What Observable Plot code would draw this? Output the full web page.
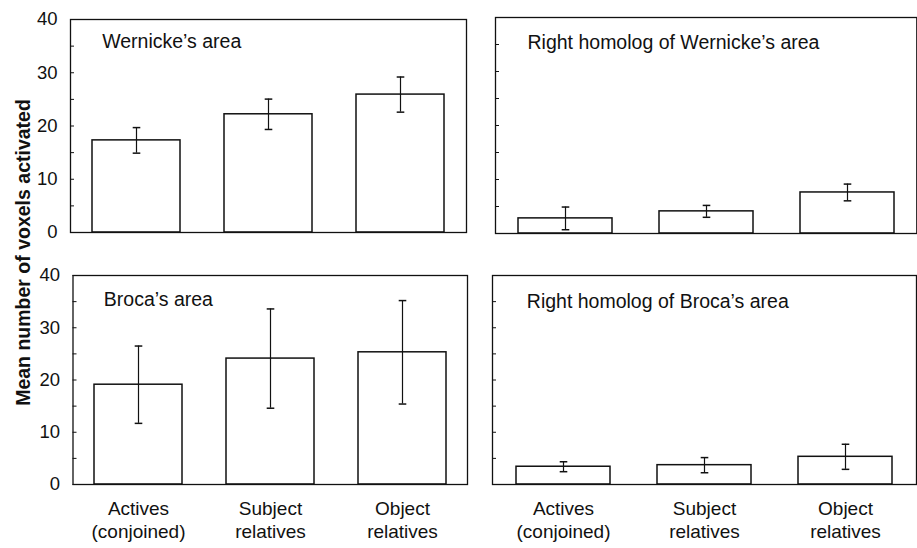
<!DOCTYPE html>
<html>
<head>
<meta charset="utf-8">
<script src="https://cdn.jsdelivr.net/npm/d3@7"></script>
<script src="https://cdn.jsdelivr.net/npm/@observablehq/plot@0.6"></script>
<style>
  body { margin: 0; background: #fff; }
  #chart { position: relative; width: 917px; height: 548px; overflow: hidden; background: #fff;
           font-family: "Liberation Sans", Arial, Helvetica, sans-serif; }
  .panel { position: absolute; }
  #ylabel { position: absolute; left: 0; top: 0; width: 400px; height: 20px; line-height: 20px;
            text-align: center; font-weight: bold; font-size: 19.5px; color: #111; white-space: nowrap;
            transform: translate(-176.7px, 242.5px) rotate(-90deg); }
</style>
</head>
<body>
<div id="chart"></div>
<script>
// ---- data ----
const categories = ["Actives\n(conjoined)", "Subject\nrelatives", "Object\nrelatives"];
const regionTitles = ["Wernicke’s area", "Right homolog of Wernicke’s area", "Broca’s area", "Right homolog of Broca’s area"];
const wernickeMean = [17.3, 22.2, 25.9];
const wernickeErr = [2.4, 2.85, 3.3];
const rightWernickeMean = [2.8, 4.1, 7.6];
const rightWernickeErr = [2.1, 1.1, 1.55];
const brocaMean = [19.1, 24.1, 25.3];
const brocaErr = [7.4, 9.5, 9.9];
const rightBrocaMean = [3.4, 3.7, 5.3];
const rightBrocaErr = [0.95, 1.45, 2.4];
const yTickLabels = [0, 10, 20, 30, 40];
const yMinorTicks = [0, 5, 10, 15, 20, 25, 30, 35, 40];
const yLabel = "Mean number of voxels activated";

// ---- layout ----
const panels = [
  {title: regionTitles[0], means: wernickeMean, errs: wernickeErr, left: 0, top: 0, width: 470, height: 245,
   mL: 70, mT: 19, mR: 4, mB: 13, showY: true, showX: false, tdx: 31.7, tdy: 28},
  {title: regionTitles[1], means: rightWernickeMean, errs: rightWernickeErr, left: 480, top: 0, width: 437, height: 245,
   mL: 15, mT: 17, mR: 0.7, mB: 12, showY: false, showX: false, tdx: 32, tdy: 31},
  {title: regionTitles[2], means: brocaMean, errs: brocaErr, left: 0, top: 250, width: 470, height: 298,
   mL: 72.5, mT: 25, mR: 3, mB: 64, showY: true, showX: true, tdx: 30.8, tdy: 30},
  {title: regionTitles[3], means: rightBrocaMean, errs: rightBrocaErr, left: 480, top: 250, width: 437, height: 298,
   mL: 12, mT: 25, mR: 1, mB: 64, showY: false, showX: true, tdx: 34.3, tdy: 32}
];

const ink = "#111";
const cap = {draw(ctx, size) { const h = Math.sqrt(size / Math.PI); ctx.moveTo(-h, 0); ctx.lineTo(h, 0); }};

const chart = document.getElementById("chart");

for (const p of panels) {
  const data = categories.map((c, i) => ({cat: c, mean: p.means[i], err: p.errs[i]}));
  const marks = [
    Plot.barY(data, {x: "cat", y: "mean", fill: "white", stroke: ink, strokeWidth: 1.5}),
    Plot.ruleX(data, {x: "cat", y1: d => d.mean - d.err, y2: d => d.mean + d.err, stroke: ink, strokeWidth: 1.2}),
    Plot.dot(data, {x: "cat", y: d => d.mean + d.err, symbol: cap, r: 3.8, fill: "none", stroke: ink, strokeWidth: 1.5}),
    Plot.dot(data, {x: "cat", y: d => d.mean - d.err, symbol: cap, r: 3.8, fill: "none", stroke: ink, strokeWidth: 1.5}),
    Plot.frame({stroke: ink, strokeWidth: 1.3}),
    Plot.axisY({ticks: yMinorTicks, tickSize: 4, dx: 4, tickFormat: () => "", label: null, stroke: ink}),
    Plot.text([p.title], {frameAnchor: "top-left", text: d => d, dx: p.tdx, dy: p.tdy, textAnchor: "start",
                          lineAnchor: "bottom", fontSize: 19.5, fill: ink})
  ];
  if (p.showY) marks.push(Plot.axisY({ticks: yTickLabels, tickSize: 0, tickPadding: 13, label: null, fontSize: 18.5, fill: ink}));
  if (p.showX) marks.push(Plot.axisX({tickSize: 0, tickPadding: 14, label: null, fontSize: 19, lineHeight: 1.22, fill: ink}));
  const xScale = {domain: categories, paddingInner: 0.333, paddingOuter: 0.16};
  if (!p.showX) xScale.axis = null;
  const svg = Plot.plot({
    width: p.width, height: p.height,
    marginLeft: p.mL, marginTop: p.mT, marginRight: p.mR, marginBottom: p.mB,
    x: xScale,
    y: {domain: [0, 40]},
    style: {fontFamily: "'Liberation Sans', Arial, Helvetica, sans-serif", fontSize: "18px", background: "transparent", color: ink},
    marks
  });
  const wrap = document.createElement("div");
  wrap.className = "panel";
  wrap.style.left = p.left + "px";
  wrap.style.top = p.top + "px";
  wrap.appendChild(svg);
  chart.appendChild(wrap);
}

const yl = document.createElement("div");
yl.id = "ylabel";
yl.textContent = yLabel;
chart.appendChild(yl);
</script>
</body>
</html>
